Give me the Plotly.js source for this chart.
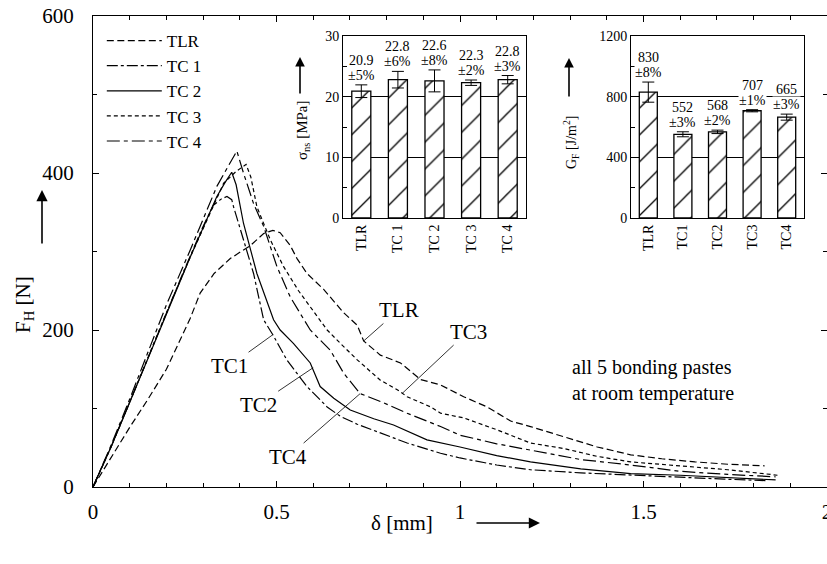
<!DOCTYPE html>
<html><head><meta charset="utf-8">
<script src="https://cdn.plot.ly/plotly-3.0.1.min.js"></script>
<style>html,body{margin:0;padding:0;background:#fff;} #chart{width:827px;height:564px;}</style>
</head><body><div id="chart"></div>
<script>
// ---- main curves: displacement delta [mm] vs force F_H [N]
const seriesNames = ['TLR', 'TC 1', 'TC 2', 'TC 3', 'TC 4'];

const deltaTLR = [0, 0.05, 0.1, 0.15, 0.2, 0.265, 0.292, 0.33, 0.374, 0.43, 0.465, 0.49, 0.51, 0.537, 0.556, 0.583, 0.628, 0.683, 0.72, 0.7375, 0.783, 0.838, 0.892, 0.947, 1.01, 1.074, 1.138, 1.192, 1.283, 1.374, 1.465, 1.55, 1.64, 1.73, 1.83];
const forceTLR = [0, 38, 76, 112, 150, 215, 247, 272, 291, 308, 323, 327, 324, 308, 291, 272, 252, 222, 206, 186, 168, 158, 137, 130, 115, 102, 84, 77, 64, 51, 41, 36, 32, 29, 27];

const deltaTC1 = [0, 0.05, 0.1, 0.15, 0.2, 0.25, 0.3, 0.328, 0.35, 0.365, 0.378, 0.383, 0.41, 0.4375, 0.465, 0.49, 0.528, 0.583, 0.638, 0.674, 0.72, 0.765, 0.856, 0.947, 1.0, 1.1, 1.192, 1.329, 1.465, 1.6, 1.72, 1.84];
const forceTC1 = [0, 52, 108, 165, 222, 278, 332, 359, 367, 370, 366, 357, 315, 272, 213, 194, 162, 128, 102, 90, 80, 72, 56, 43, 37, 28, 22, 18, 15, 12, 10, 8];

const deltaTC2 = [0, 0.05, 0.1, 0.15, 0.2, 0.265, 0.3375, 0.36, 0.378, 0.39, 0.41, 0.4466, 0.492, 0.51, 0.546, 0.592, 0.619, 0.656, 0.701, 0.765, 0.819, 0.91, 1.0, 1.1, 1.192, 1.329, 1.465, 1.6, 1.73, 1.86];
const forceTC2 = [0, 52, 108, 165, 220, 293, 370, 388, 401, 385, 336, 272, 213, 200, 183, 158, 128, 113, 98, 87, 79, 60, 51, 40, 32, 23, 17, 15, 12, 9];

const deltaTC3 = [0, 0.05, 0.1, 0.15, 0.2, 0.265, 0.356, 0.39, 0.417, 0.43, 0.4466, 0.483, 0.519, 0.56, 0.6, 0.638, 0.674, 0.72, 0.783, 0.829, 0.856, 0.92, 0.947, 1.01, 1.1, 1.192, 1.283, 1.374, 1.465, 1.6, 1.73, 1.865];
const forceTC3 = [0, 52, 108, 165, 222, 293, 387, 402, 411, 395, 357, 315, 281, 250, 224, 200, 183, 162, 136, 124, 115, 102, 94, 88, 73, 56, 49, 39, 32, 27, 22, 15];

const deltaTC4 = [0, 0.05, 0.1, 0.15, 0.2, 0.265, 0.3375, 0.37, 0.392, 0.41, 0.4375, 0.465, 0.501, 0.5375, 0.592, 0.647, 0.683, 0.728, 0.783, 0.856, 0.947, 1.0, 1.1, 1.192, 1.329, 1.465, 1.6, 1.73, 1.86];
const forceTC4 = [0, 54, 112, 172, 232, 302, 383, 410, 428, 400, 361, 332, 281, 242, 200, 174, 145, 119, 109, 94, 77, 66, 55, 47, 35, 28, 20, 16, 13];

// ---- inset 1: shear strength sigma_ns [MPa]
const sigmaCats = ['TLR', 'TC 1', 'TC 2', 'TC 3', 'TC 4'];
const sigmaVals = [20.9, 22.8, 22.6, 22.3, 22.8];
const sigmaPct = [5, 6, 8, 2, 3];

// ---- inset 2: fracture energy G_F [J/m^2]
const gfCats = ['TLR', 'TC1', 'TC2', 'TC3', 'TC4'];
const gfVals = [830, 552, 568, 707, 665];
const gfPct = [8, 3, 2, 1, 3];

// ---- axis tick values
const xTicks = [0, 0.5, 1, 1.5, 2];
const yTicks = [0, 200, 400, 600];

const SERIF = 'Liberation Serif';
const dashes = ['7px,3.5px', '11px,3px,3px,3px', 'solid', '4px,3px', '13px,4px,4px,4px'];
const xs = [deltaTLR, deltaTC1, deltaTC2, deltaTC3, deltaTC4];
const ys = [forceTLR, forceTC1, forceTC2, forceTC3, forceTC4];

const traces = seriesNames.map((n, i) => ({
  type: 'scatter', mode: 'lines', name: n, x: xs[i], y: ys[i],
  xaxis: 'x', yaxis: 'y',
  line: {color: '#000', width: 1.2, dash: dashes[i]}
}));

const sigmaErr = sigmaVals.map((v, i) => v * sigmaPct[i] / 100);
const gfErr = gfVals.map((v, i) => v * gfPct[i] / 100);

const barStyle = {
  color: '#fff',
  line: {color: '#000', width: 1.3},
  pattern: {shape: '/', fgcolor: '#000', bgcolor: '#fff', size: 19, solidity: 0.07}
};
traces.push({
  type: 'bar', x: sigmaCats, y: sigmaVals, xaxis: 'x2', yaxis: 'y2', showlegend: false,
  width: 0.52, marker: barStyle,
  error_y: {type: 'data', array: sigmaErr, color: '#000', thickness: 1, width: 6}
});
traces.push({
  type: 'bar', x: gfCats, y: gfVals, xaxis: 'x3', yaxis: 'y3', showlegend: false,
  width: 0.52, marker: barStyle,
  error_y: {type: 'data', array: gfErr, color: '#000', thickness: 1, width: 6}
});

const annotations = [];
// value labels on bars: percentage line (white box) first, value line above it
function barLabel(xref, yref, c, top, line1, line2) {
  const base = {xref: xref, yref: yref, x: c, y: top, yanchor: 'bottom', showarrow: false,
    font: {family: SERIF, size: 14, color: '#000'}, borderpad: 0};
  annotations.push(Object.assign({}, base, {text: line2, yshift: 1, bgcolor: '#fff'}));
  annotations.push(Object.assign({}, base, {text: line1, yshift: 16}));
}
sigmaCats.forEach((c, i) => barLabel('x2', 'y2', c, sigmaVals[i] + sigmaErr[i],
  sigmaVals[i].toFixed(1), '±' + sigmaPct[i] + '%'));
gfCats.forEach((c, i) => barLabel('x3', 'y3', c, gfVals[i] + gfErr[i],
  String(gfVals[i]), '±' + gfPct[i] + '%'));

// curve labels with leader lines
function curveLabel(txt, xv, yv, ax, ay) {
  annotations.push({xref: 'x', yref: 'y', x: xv, y: yv, ax: ax, ay: ay, text: txt,
    showarrow: true, arrowhead: 0, arrowwidth: 0.8, arrowcolor: '#000', standoff: 0,
    font: {family: SERIF, size: 21, color: '#000'}});
}
curveLabel('TLR', deltaTLR[19], forceTLR[19], 35, -31);
curveLabel('TC3', 0.842, 119, 66, -62);
curveLabel('TC1', deltaTC1[15], forceTC1[15], -43, 31);
curveLabel('TC2', 0.6, 152, -55, 37);
curveLabel('TC4', deltaTC4[17], forceTC4[17], -72, 63);

function paperText(txt, px, py, size, angle, extra) {
  annotations.push(Object.assign({xref: 'paper', yref: 'paper', x: (px - 93) / 734, y: (487 - py) / 471,
    xanchor: 'center', yanchor: 'middle', showarrow: false, text: txt, textangle: angle || 0,
    font: {family: SERIF, size: size, color: '#000'}}, extra || {}));
}
function paperArrow(px, py, ax, ay, size) {
  annotations.push({xref: 'paper', yref: 'paper', x: (px - 93) / 734, y: (487 - py) / 471,
    ax: ax, ay: ay, text: '', showarrow: true, arrowhead: 2, arrowsize: size, arrowwidth: 1.6, arrowcolor: '#000'});
}

paperText('all 5 bonding pastes<br>at room temperature', 570, 380, 20, 0, {xanchor: 'left', align: 'left'});

// axis titles
paperText('F<sub>H</sub> [N]', 24, 305, 21, -90);
paperArrow(42, 190, 0, 55, 1.4);
paperText('δ [mm]', 402, 523, 21, 0);
paperArrow(540, 523, -65, 0, 1.4);

paperText('σ<sub>ns</sub> [MPa]', 303, 130, 15, -90);
paperArrow(300, 57, 0, 38, 1.2);
paperText('G<sub>F</sub> [J/m<sup>2</sup>]', 571, 142, 14, -90);
paperArrow(569, 58, 0, 40, 1.2);

const axBase = {showline: true, linecolor: '#000', linewidth: 1, zeroline: false, showgrid: false,
  tickcolor: '#000', tickfont: {family: SERIF, size: 21, color: '#000'}, ticklabeloverflow: 'allow'};
const insetFont = {family: SERIF, size: 14, color: '#000'};

const layout = {
  width: 827, height: 564,
  margin: {l: 93, r: 0, t: 16, b: 77},
  paper_bgcolor: '#fff', plot_bgcolor: 'rgba(0,0,0,0)',
  font: {family: SERIF, color: '#000'},
  showlegend: true,
  legend: {x: 0.012, y: 0.985, xanchor: 'left', yanchor: 'top', bgcolor: 'rgba(0,0,0,0)',
    font: {family: SERIF, size: 17, color: '#000'}, itemwidth: 55, tracegroupgap: 0},
  xaxis: Object.assign({}, axBase, {domain: [0, 1], range: [0, 2], tickvals: xTicks,
    ticks: 'inside', ticklen: 6, mirror: 'ticks', ticklabelstandoff: 6,
    minor: {dtick: 0.1, tick0: 0, ticks: 'inside', ticklen: 4, tickcolor: '#000'}}),
  yaxis: Object.assign({}, axBase, {domain: [0, 1], range: [0, 600], tickvals: yTicks,
    ticks: 'inside', ticklen: 6, mirror: 'ticks', ticklabelstandoff: 14,
    minor: {dtick: 100, tick0: 0, ticks: 'inside', ticklen: 4, tickcolor: '#000'}}),
  xaxis2: Object.assign({}, axBase, {domain: [(343 - 93) / 734, (526 - 93) / 734], anchor: 'y2',
    type: 'category', mirror: true, ticks: '', tickangle: -90, tickfont: insetFont}),
  yaxis2: Object.assign({}, axBase, {domain: [(487 - 218) / 471, (487 - 36) / 471], anchor: 'x2',
    range: [0, 30], dtick: 10, mirror: true, ticks: 'inside', ticklen: 4,
    showgrid: true, gridcolor: '#000', gridwidth: 1,
    minor: {dtick: 5, ticks: 'inside', ticklen: 4, tickcolor: '#000'}, tickfont: insetFont}),
  xaxis3: Object.assign({}, axBase, {domain: [(631 - 93) / 734, (804 - 93) / 734], anchor: 'y3',
    type: 'category', mirror: true, ticks: '', tickangle: -90, tickfont: insetFont}),
  yaxis3: Object.assign({}, axBase, {domain: [(487 - 218) / 471, (487 - 36) / 471], anchor: 'x3',
    range: [0, 1200], dtick: 400, mirror: true, ticks: 'inside', ticklen: 4,
    showgrid: true, gridcolor: '#000', gridwidth: 1,
    minor: {dtick: 200, ticks: 'inside', ticklen: 4, tickcolor: '#000'}, tickfont: insetFont}),
  annotations: annotations
};

Plotly.newPlot('chart', traces, layout, {staticPlot: true, displayModeBar: false});
</script>
</body></html>
